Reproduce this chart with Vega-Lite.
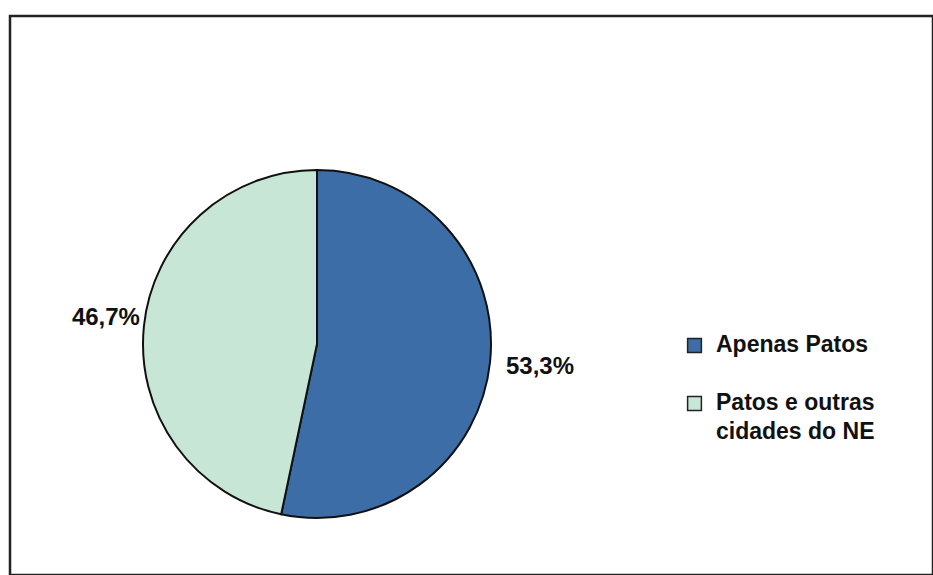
{
  "$schema": "https://vega.github.io/schema/vega-lite/v6.json",
  "width": 923,
  "height": 559,
  "autosize": {"type": "none"},
  "padding": {"left": 10, "top": 16, "right": 0, "bottom": 0},
  "background": "white",
  "view": {"stroke": "#222222", "strokeWidth": 2.5, "fill": "white"},
  "config": {
    "view": {"stroke": "#222222", "strokeWidth": 2.5},
    "font": "Liberation Sans"
  },
  "data": {
    "values": [
      {"categoria": "Apenas Patos", "pct": 53.3, "rotulo": "53,3%", "ord": 1},
      {"categoria": "Patos e outras cidades do NE", "pct": 46.7, "rotulo": "46,7%", "ord": 2}
    ]
  },
  "layer": [
    {
      "mark": {"type": "arc", "x": 307, "y": 328, "outerRadius": 174, "stroke": "#111111", "strokeWidth": 2},
      "encoding": {
        "theta": {"field": "pct", "type": "quantitative", "stack": true, "scale": {"domain": [0, 100]}},
        "order": {"field": "ord", "type": "quantitative"},
        "color": {
          "field": "categoria",
          "type": "nominal",
          "scale": {"domain": ["Apenas Patos", "Patos e outras cidades do NE"], "range": ["#3c6da6", "#c8e6d5"]},
          "legend": {
            "title": null,
            "orient": "none",
            "legendX": 673,
            "legendY": 318,
            "padding": 0,
            "symbolType": "square",
            "symbolSize": 190,
            "symbolStrokeColor": "#222222",
            "symbolStrokeWidth": 1.5,
            "labelFont": "Liberation Sans",
            "labelFontWeight": "bold",
            "labelFontSize": 23,
            "labelColor": "#111111",
            "labelOffset": 10,
            "labelLimit": 0,
            "rowPadding": 34,
            "labelBaseline": "top",
            "labelExpr": "datum.label == 'Patos e outras cidades do NE' ? ['Patos e outras', ' cidades do NE'] : datum.label",
            "encode": {"labels": {"update": {"dy": {"value": -12}, "lineHeight": {"value": 29}}}}
          }
        }
      }
    },
    {
      "transform": [
        {"stack": "pct", "groupby": [], "sort": [{"field": "ord"}], "as": ["s0", "s1"]},
        {"calculate": "(datum.s0 + datum.s1) / 2", "as": "mid"},
        {"filter": "datum.ord == 1"}
      ],
      "mark": {"type": "text", "x": 307, "y": 328, "radius": 190, "align": "left", "baseline": "middle", "dy": 3, "font": "Liberation Sans", "fontWeight": "bold", "fontSize": 24, "fill": "#111111"},
      "encoding": {
        "theta": {"field": "mid", "type": "quantitative"},
        "text": {"field": "rotulo"}
      }
    },
    {
      "transform": [
        {"stack": "pct", "groupby": [], "sort": [{"field": "ord"}], "as": ["s0", "s1"]},
        {"calculate": "(datum.s0 + datum.s1) / 2", "as": "mid"},
        {"filter": "datum.ord == 2"}
      ],
      "mark": {"type": "text", "x": 307, "y": 328, "radius": 178, "align": "right", "baseline": "middle", "dy": -8, "font": "Liberation Sans", "fontWeight": "bold", "fontSize": 24, "fill": "#111111"},
      "encoding": {
        "theta": {"field": "mid", "type": "quantitative"},
        "text": {"field": "rotulo"}
      }
    }
  ]
}
